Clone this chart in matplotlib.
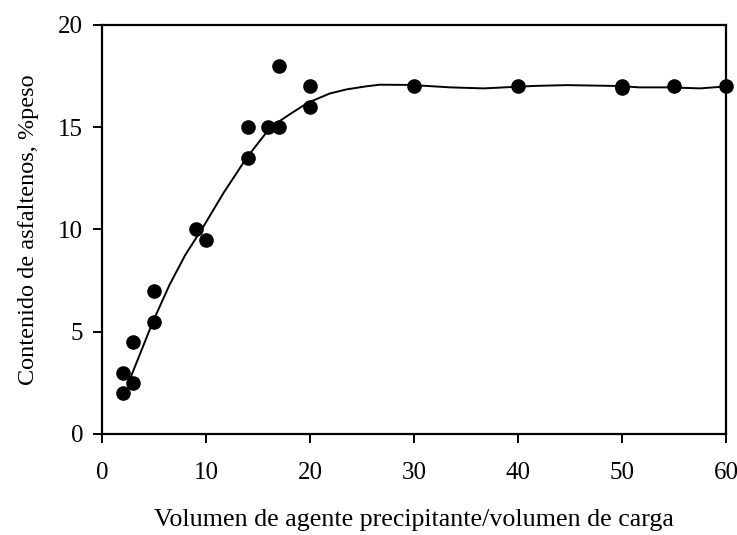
import matplotlib
matplotlib.use("Agg")
import matplotlib.pyplot as plt
import numpy as np

# Measured data points
x_pts = [2, 2, 3, 3, 5, 5, 9, 10, 14, 14, 16, 17, 17, 20, 20, 30, 40, 50, 50, 55, 60]
y_pts = [2, 3, 2.5, 4.5, 5.5, 7, 10, 9.5, 13.5, 15, 15, 15, 18, 16, 17, 17, 17, 17, 16.9, 17, 17]

# Fitted curve
x_fit = [2.7, 3.8, 4.9, 6.5, 8.0, 9.7, 11.7, 13.9, 16.2, 18.1, 19.8, 21.9, 23.5, 25.4,
         26.7, 29.6, 33.5, 36.7, 39.5, 41.5, 44.7, 49.5, 51.7, 54.6, 57.5, 59.6, 60]
y_fit = [2.7, 4.1, 5.5, 7.3, 8.75, 10.1, 11.8, 13.5, 15.0, 15.65, 16.2, 16.65, 16.85, 17.0,
         17.08, 17.07, 16.95, 16.9, 16.97, 17.02, 17.06, 17.02, 16.95, 16.95, 16.9, 16.98, 17.0]

x_ticks = [0, 10, 20, 30, 40, 50, 60]
y_ticks = [0, 5, 10, 15, 20]

plt.rcParams['font.family'] = ['Liberation Serif', 'DejaVu Serif']

fig = plt.figure(figsize=(7.37, 5.35), dpi=100)
ax = fig.add_axes([102/737, 1 - 434/535, (726-102)/737, (434-25)/535])

ax.plot(x_fit, y_fit, color='black', lw=1.4, zorder=2)
ax.plot(x_pts, y_pts, 'o', color='black', ms=9.5, zorder=3, clip_on=False)

ax.set_xlim(0, 60)
ax.set_ylim(0, 20)
ax.set_xticks(x_ticks)
ax.set_yticks(y_ticks)
ax.tick_params(direction='out', length=6.5, width=1.4, labelsize=18)
ax.tick_params(axis='x', pad=14)
ax.tick_params(axis='y', pad=7)
for s in ax.spines.values():
    s.set_linewidth(1.6)

ax.set_xlabel('Volumen de agente precipitante/volumen de carga', fontsize=18.7, labelpad=18)
ax.set_ylabel('Contenido de asfaltenos, %peso', fontsize=17.5, labelpad=14)

fig.savefig('out.png', dpi=100)
